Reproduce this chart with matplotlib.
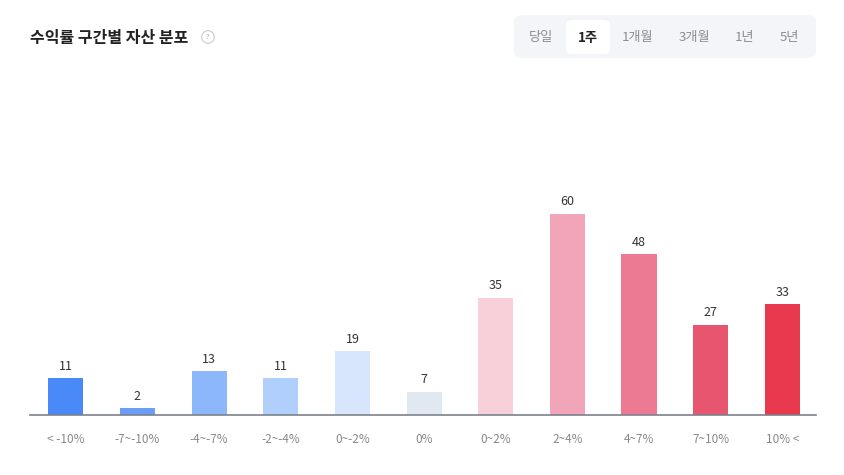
import matplotlib
matplotlib.use("Agg")
from matplotlib import pyplot as plt
from matplotlib.patches import FancyBboxPatch

plt.rcParams["font.family"] = ["Noto Sans CJK KR", "DejaVu Sans"]

categories = ["< -10%", "-7~-10%", "-4~-7%", "-2~-4%", "0~-2%", "0%",
              "0~2%", "2~4%", "4~7%", "7~10%", "10% <"]
counts = [11, 2, 13, 11, 19, 7, 35, 60, 48, 27, 33]
bar_colors = ["#4a89f8", "#6a9ef8", "#8cb7fa", "#b1cffc", "#d7e6fd", "#e0e8f1",
              "#f7d0da", "#f2a4b8", "#ec7a92", "#e7556f", "#e8394e"]
tabs = ["당일", "1주", "1개월", "3개월", "1년", "5년"]
selected_tab = "1주"

fig = plt.figure(figsize=(8.44, 4.75), dpi=100)
ax = fig.add_axes([30 / 844, 60 / 475, 786 / 844, 335 / 475])

x = list(range(len(categories)))
bars = ax.bar(x, counts, width=0.49, color=bar_colors, zorder=2)

for b, v in zip(bars, counts):
    ax.annotate(str(v), (b.get_x() + b.get_width() / 2, v),
                xytext=(0, 4), textcoords="offset points",
                ha="center", va="bottom", fontsize=9, color="#333333")

ax.set_xlim(-0.5, 10.47)
ax.set_ylim(0, 100)
ax.set_xticks(x)
ax.set_xticklabels(categories, fontsize=8.5, color="#888888")
ax.tick_params(axis="x", length=0, pad=13)
ax.set_yticks([])
for side in ["left", "right", "top"]:
    ax.spines[side].set_visible(False)
ax.spines["bottom"].set_color("#7d818b")
ax.spines["bottom"].set_linewidth(1.2)
ax.spines["bottom"].set_zorder(3)

# title
fig.text(30 / 844, 1 - 38 / 475, "수익률 구간별 자산 분포", fontsize=11.5,
         fontweight="bold", color="#222222", va="center", ha="left")
fig.text(208 / 844, 1 - 37 / 475, "?", fontsize=5.5, color="#aaaaaa",
         va="center", ha="center",
         bbox=dict(boxstyle="circle,pad=0.3", fc="white", ec="#cccccc", lw=0.8))

# period selector
tab_x = [541, 588, 638, 694, 745, 789]
fig.patches.append(FancyBboxPatch((514 / 844, 1 - 58 / 475), 302 / 844, 43 / 475,
                                  boxstyle="round,pad=0,rounding_size=0.012",
                                  transform=fig.transFigure, fc="#f4f5f8", ec="none"))
fig.patches.append(FancyBboxPatch((566 / 844, 1 - 54 / 475), 44 / 844, 34 / 475,
                                  boxstyle="round,pad=0,rounding_size=0.008",
                                  transform=fig.transFigure, fc="white", ec="none"))
for t, tx in zip(tabs, tab_x):
    sel = t == selected_tab
    fig.text(tx / 844, 1 - 38 / 475, t, fontsize=9.5, ha="center", va="center",
             color="#222222" if sel else "#8a8d94",
             fontweight="bold" if sel else "normal")

fig.savefig("out.png", dpi=100)
